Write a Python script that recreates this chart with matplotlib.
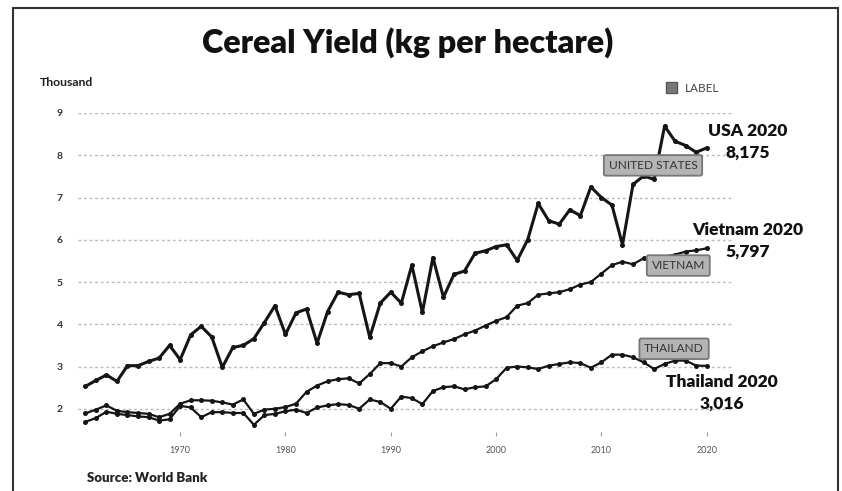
import matplotlib
matplotlib.use("Agg")
import matplotlib.pyplot as plt
from matplotlib.patches import Rectangle, Patch

plt.rcParams['font.family'] = ['Lato', 'DejaVu Sans']

years = list(range(1961, 2021))

usa = [2.53, 2.67, 2.80, 2.65, 3.02, 3.02, 3.12, 3.20, 3.50, 3.16,
       3.75, 3.95, 3.70, 2.98, 3.45, 3.50, 3.66, 4.04, 4.44, 3.76,
       4.27, 4.36, 3.55, 4.30, 4.76, 4.70, 4.73, 3.69, 4.50, 4.76,
       4.50, 5.40, 4.28, 5.58, 4.64, 5.18, 5.26, 5.68, 5.74, 5.84,
       5.88, 5.51, 6.00, 6.86, 6.45, 6.37, 6.71, 6.57, 7.25, 7.00,
       6.82, 5.88, 7.31, 7.51, 7.43, 8.69, 8.33, 8.23, 8.07, 8.175]

vietnam = [1.89, 1.98, 2.08, 1.95, 1.92, 1.90, 1.88, 1.80, 1.88, 2.12,
           2.20, 2.20, 2.19, 2.15, 2.10, 2.22, 1.88, 1.98, 2.00, 2.04,
           2.12, 2.40, 2.55, 2.65, 2.70, 2.72, 2.60, 2.82, 3.08, 3.08,
           3.00, 3.22, 3.36, 3.48, 3.57, 3.65, 3.76, 3.85, 3.97, 4.08,
           4.17, 4.44, 4.50, 4.70, 4.73, 4.76, 4.83, 4.94, 5.00, 5.20,
           5.40, 5.48, 5.42, 5.56, 5.58, 5.60, 5.65, 5.72, 5.75, 5.797]

thailand = [1.69, 1.78, 1.93, 1.88, 1.85, 1.82, 1.80, 1.72, 1.75, 2.07,
            2.03, 1.80, 1.92, 1.92, 1.90, 1.90, 1.62, 1.85, 1.88, 1.94,
            1.98, 1.90, 2.03, 2.08, 2.11, 2.09, 2.00, 2.22, 2.16, 2.00,
            2.29, 2.25, 2.11, 2.42, 2.51, 2.53, 2.46, 2.51, 2.53, 2.70,
            2.97, 3.00, 2.98, 2.94, 3.02, 3.06, 3.10, 3.08, 2.97, 3.10,
            3.28, 3.28, 3.22, 3.10, 2.94, 3.06, 3.14, 3.14, 3.02, 3.016]

xticks = [1970, 1980, 1990, 2000, 2010, 2020]
yticks = [2, 3, 4, 5, 6, 7, 8, 9]

series_labels = ["UNITED STATES", "VIETNAM", "THAILAND"]
label_pos = [(2014.9, 7.76), (2017.3, 5.39), (2016.9, 3.42)]
end_text = ["USA 2020\n8,175", "Vietnam 2020\n5,797", "Thailand 2020\n3,016"]
end_pos = [(2023.9, 8.31), (2023.9, 5.98), (2021.4, 2.37)]

fig = plt.figure(figsize=(8.42, 4.91), dpi=100)
ax = fig.add_axes([78/842, 1-432/491, 654/842, 319/491])

widths = [2.2, 1.6, 1.6]
for vals, w in zip((usa, vietnam, thailand), widths):
    ax.plot(years, vals, color='#151515', lw=w, marker='o', ms=3.6,
            markeredgewidth=0, zorder=3)

ax.set_xlim(1960.3, 2022.4)
ax.set_ylim(1.45, 9.0)
ax.set_yticks(yticks)
ax.set_yticklabels([str(v) for v in yticks], fontsize=7.5, fontweight='bold', color='#333333')
ax.set_xticks(xticks)
ax.set_xticklabels([str(v) for v in xticks], fontsize=6.5, color='#555555')
ax.tick_params(axis='y', length=0, pad=11)
ax.tick_params(axis='x', length=3, width=0.8, color='#999999', pad=7)
for s in ax.spines.values():
    s.set_visible(False)
ax.grid(axis='y', color='#bbbbbb', linestyle=(0, (2, 2)), lw=1.0, zorder=0)
ax.set_axisbelow(True)

for lab, (x, y) in zip(series_labels, label_pos):
    ax.text(x, y, lab, fontsize=8.6, color='#333333', ha='center', va='center', zorder=5,
            bbox=dict(boxstyle='round,pad=0.4,rounding_size=0.15', fc='#b4b4b4', ec='#777777', lw=1.3))

for t, (x, y) in zip(end_text, end_pos):
    ax.text(x, y, t, fontsize=12.5, fontweight='heavy', color='#111111', ha='center', va='center',
            linespacing=1.45, clip_on=False, zorder=6)

fig.text(408/842, 0.913, "Cereal Yield (kg per hectare)", fontsize=23.3, fontweight='heavy',
         ha='center', va='center', color='#111111')
fig.text(40/842, 1-82/491, "Thousand", fontsize=8.8, fontweight='bold', ha='left', va='center', color='#222222')
fig.text(87/842, 1-478/491, "Source: World Bank", fontsize=9.5, fontweight='heavy', ha='left', va='center', color='#222222')

# legend
fig.legend(handles=[Patch(facecolor='#777777', edgecolor='#555555', label='LABEL')],
           loc='center left', bbox_to_anchor=(655/842, 1-88/491), frameon=False,
           fontsize=8.5, handlelength=1.0, handleheight=1.0, handletextpad=0.6, labelcolor='#444444')

# outer border
fig.add_artist(Rectangle((13/842, -0.05), (838-13)/842, 1.05 - 8/491, transform=fig.transFigure,
                         fill=False, ec='#333333', lw=1.5))

fig.savefig("out.png", dpi=100)
